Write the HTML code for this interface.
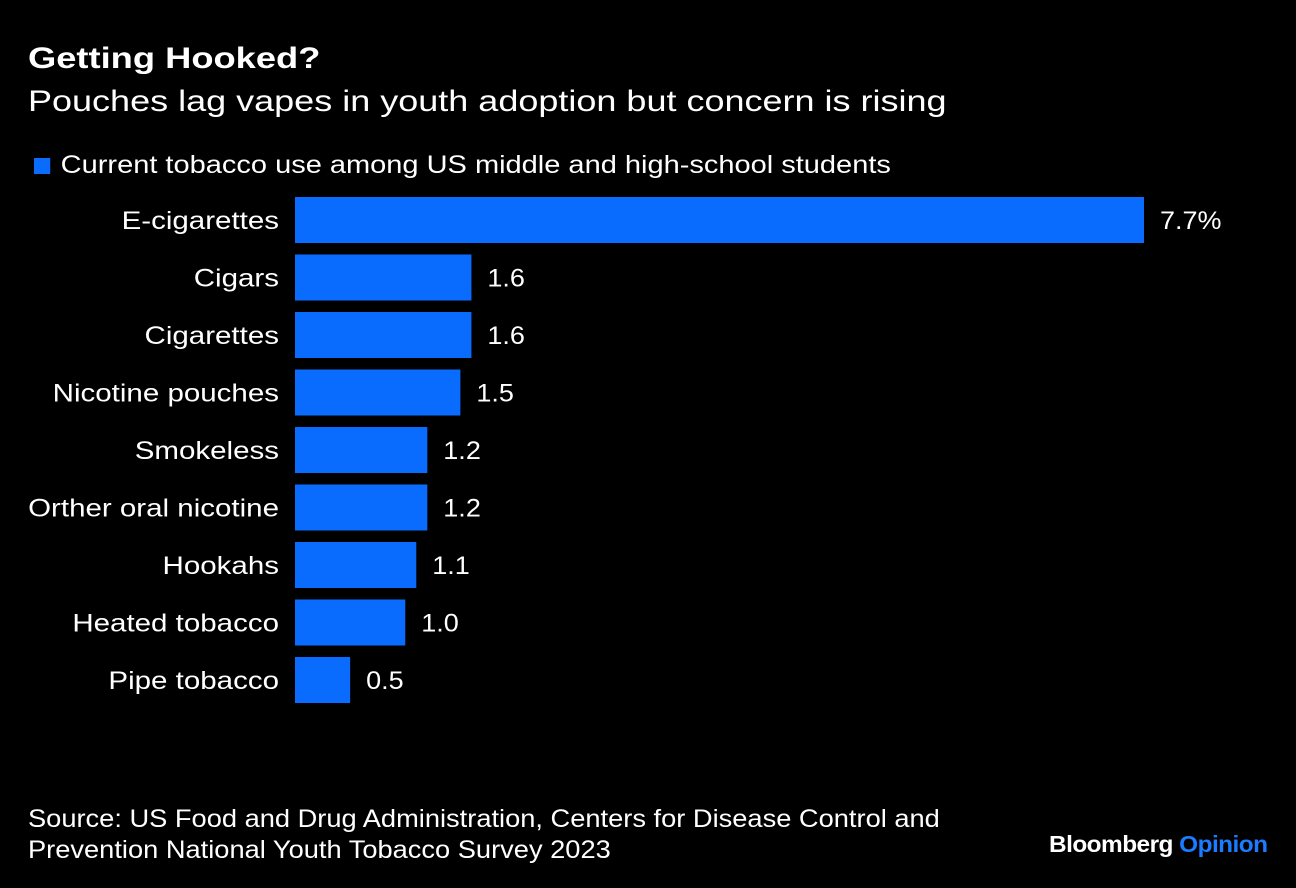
<!DOCTYPE html>
<html><head><meta charset="utf-8"><style>
body{margin:0;background:#000;width:1296px;height:888px;overflow:hidden;font-family:"Liberation Sans",sans-serif;color:#fff;position:relative}
.t{position:absolute;white-space:nowrap;transform-origin:0 0}
</style></head><body>
<div class="t" style="left:28px;top:42px;font-size:30px;font-weight:bold;transform:scaleX(1.21)">Getting Hooked?</div>
<div class="t" style="left:28px;top:85px;font-size:30px;transform:scaleX(1.2)">Pouches lag vapes in youth adoption but concern is rising</div>
<div class="t" style="left:34px;top:151px;font-size:25px;transform:scaleX(1.16)"><span style="display:inline-block;width:14px;height:16px;background:#0a6cff;margin-right:9px;vertical-align:-1px"></span>Current tobacco use among US middle and high-school students</div>
<svg id="chart" width="1296" height="888" style="position:absolute;left:0;top:0"></svg>
<div class="t" style="left:28px;top:804px;font-size:25px;line-height:31px;transform:scaleX(1.09)">Source: US Food and Drug Administration, Centers for Disease Control and<br>Prevention National Youth Tobacco Survey 2023</div>
<div class="t" style="left:1049px;top:831px;font-size:23px;font-weight:bold;letter-spacing:-0.5px;transform:scaleX(1.06)">Bloomberg <span style="color:#1a7cff">Opinion</span></div>
<script>
const categories=["E-cigarettes","Cigars","Cigarettes","Nicotine pouches","Smokeless","Orther oral nicotine","Hookahs","Heated tobacco","Pipe tobacco"];
const values=[7.7,1.6,1.6,1.5,1.2,1.2,1.1,1.0,0.5];
const valueLabels=["7.7%","1.6","1.6","1.5","1.2","1.2","1.1","1.0","0.5"];
const svg=document.getElementById('chart');
const NS='http://www.w3.org/2000/svg';
const x0=295, pxPerUnit=(1144-295)/7.7;
const xScale=v=>x0+v*pxPerUnit;
const yTop=i=>197+i*57.5;
const bh=46;
function stretch(t,f){const w=t.getComputedTextLength();t.setAttribute('textLength',w*f);t.setAttribute('lengthAdjust','spacingAndGlyphs');}
categories.forEach((c,i)=>{
  const r=document.createElementNS(NS,'rect');
  r.setAttribute('x',x0);r.setAttribute('y',yTop(i));
  r.setAttribute('width',xScale(values[i])-x0);r.setAttribute('height',bh);
  r.setAttribute('fill','#0a6cff');
  
  
  svg.appendChild(r);
  const l=document.createElementNS(NS,'text');
  l.setAttribute('x',279);l.setAttribute('y',yTop(i)+bh/2+9);
  l.setAttribute('text-anchor','end');l.setAttribute('fill','#fff');
  l.setAttribute('font-size','25');l.textContent=c;
  
  
  svg.appendChild(l);stretch(l,1.18);
  const v=document.createElementNS(NS,'text');
  v.setAttribute('x',xScale(values[i])+16);v.setAttribute('y',yTop(i)+bh/2+9);
  v.setAttribute('fill','#fff');v.setAttribute('font-size','25');
  v.textContent=valueLabels[i];
  
  
  svg.appendChild(v);stretch(v,1.08);
});
</script>
</body></html>
